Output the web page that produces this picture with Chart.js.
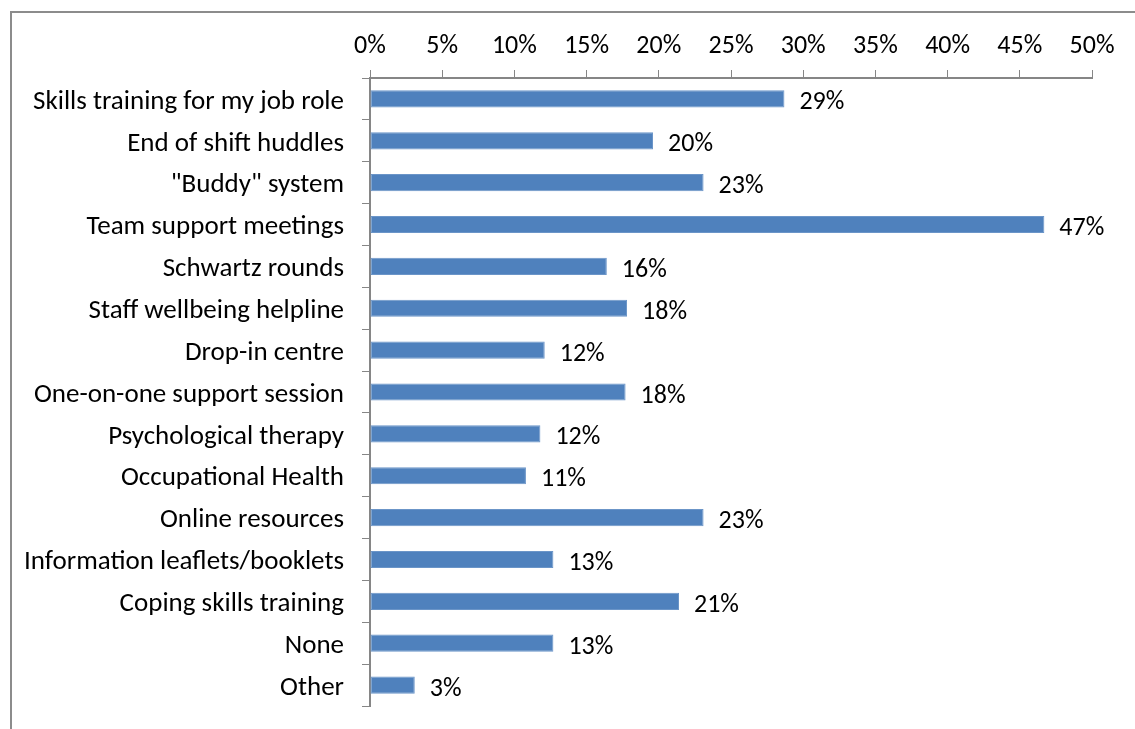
<!DOCTYPE html>
<html>
<head>
<meta charset="utf-8">
<script src="https://cdn.jsdelivr.net/npm/chart.js@4/dist/chart.umd.min.js"></script>
<style>
  html, body { margin: 0; padding: 0; background: #fff; overflow: hidden; }
  #frame {
    position: absolute; left: 10px; top: 11px; width: 1200px; height: 800px;
    border-left: 2px solid #8c8c8c; border-top: 2px solid #8c8c8c;
  }
  #wrap { position: absolute; left: 0; top: 0; width: 1135px; height: 729px; }
</style>
</head>
<body>
<div id="frame"></div>
<div id="wrap"><canvas id="chart"></canvas></div>
<script>
const categories = [
  'Skills training for my job role',
  'End of shift huddles',
  '"Buddy" system',
  'Team support meetings',
  'Schwartz rounds',
  'Staff wellbeing helpline',
  'Drop-in centre',
  'One-on-one support session',
  'Psychological therapy',
  'Occupational Health',
  'Online resources',
  'Information leaflets/booklets',
  'Coping skills training',
  'None',
  'Other'
];
const shares = [28.7, 19.6, 23.1, 46.7, 16.4, 17.8, 12.1, 17.7, 11.8, 10.8, 23.1, 12.7, 21.4, 12.7, 3.1];
const xTicks = [0, 5, 10, 15, 20, 25, 30, 35, 40, 45, 50];

const FONT = "Carlito, Calibri, Lato, sans-serif";
const FONT_SIZE = 26;
const axisGrey = '#868686';

// percentage labels just past the end of each bar
const barLabels = {
  id: 'barLabels',
  afterDatasetsDraw(chart) {
    const ctx = chart.ctx;
    const meta = chart.getDatasetMeta(0);
    ctx.save();
    ctx.font = FONT_SIZE + 'px ' + FONT;
    ctx.fillStyle = '#000';
    ctx.textAlign = 'left';
    ctx.textBaseline = 'middle';
    meta.data.forEach((bar, i) => {
      ctx.fillText(Math.round(shares[i]) + '%', bar.x + 15, bar.y + 4);
    });
    ctx.restore();
  }
};

new Chart(document.getElementById('chart'), {
  type: 'bar',
  data: {
    labels: categories,
    datasets: [{
      data: shares,
      backgroundColor: '#4f81bd',
      borderColor: '#6b95c8',
      borderWidth: 1,
      borderSkipped: false,
      categoryPercentage: 1,
      barPercentage: 0.41
    }]
  },
  options: {
    indexAxis: 'y',
    responsive: true,
    maintainAspectRatio: false,
    animation: false,
    layout: { padding: { left: 0, right: 43, top: 0, bottom: 23 } },
    plugins: { legend: { display: false }, tooltip: { enabled: false } },
    scales: {
      x: {
        position: 'top',
        min: 0,
        max: 50,
        afterBuildTicks(scale) { scale.ticks = xTicks.map(v => ({ value: v })); },
        afterFit(scale) {
          scale.height = 78;
          scale.paddingLeft = 0;
          scale.paddingRight = 0;
        },
        ticks: {
          callback: v => v + '%',
          color: '#000',
          font: { family: FONT, size: FONT_SIZE },
          padding: 8,
          maxRotation: 0
        },
        grid: { drawOnChartArea: false, drawTicks: true, tickLength: 8, color: axisGrey },
        border: { color: axisGrey, width: 2 }
      },
      y: {
        afterFit(scale) {
          scale.width = 370;
          scale.paddingTop = 0;
          scale.paddingBottom = 0;
        },
        ticks: {
          color: '#000',
          font: { family: FONT, size: 27 },
          padding: 18,
          labelOffset: 3,
          autoSkip: false
        },
        grid: { drawOnChartArea: false, drawTicks: true, tickLength: 8, color: axisGrey, offset: true },
        border: { color: axisGrey, width: 2 }
      }
    }
  },
  plugins: [barLabels]
});
</script>
</body>
</html>
